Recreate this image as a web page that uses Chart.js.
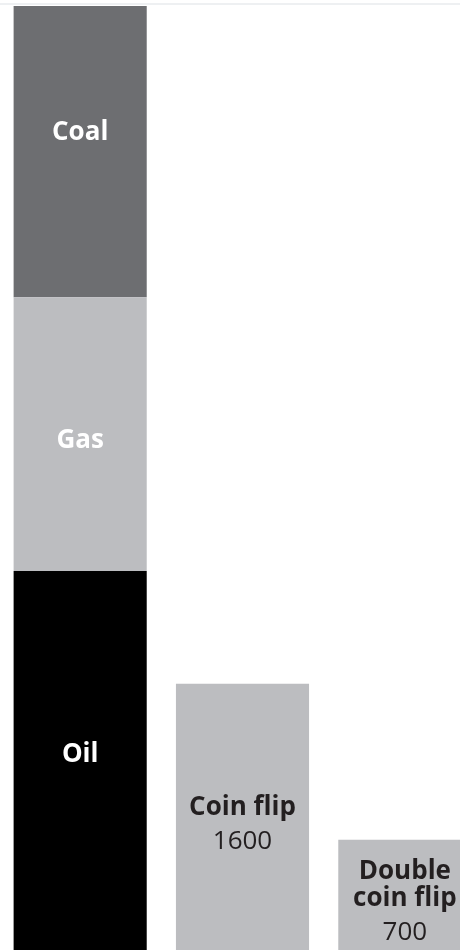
<!DOCTYPE html>
<html>
<head>
<meta charset="utf-8">
<script src="https://cdn.jsdelivr.net/npm/chart.js@4"></script>
<style>
  html, body { margin: 0; padding: 0; background: #fff; overflow: hidden; }
  body { width: 460px; height: 950px; position: relative; }
  .topline { position: absolute; left: 0; top: 3px; width: 460px; height: 2px; background: #eef0f2; }
  .wrap { position: absolute; left: -1px; top: 0; width: 487px; height: 961px; }
</style>
</head>
<body>
<div class="topline"></div>
<div class="wrap"><canvas id="chart"></canvas></div>
<script>
// Categories and values
const categories = ['Fossil fuels', 'Coin flip', 'Double coin flip']
const oilValues = [2250, null, null]
const gasValues = [1580, null, null]
const coalValues = [1680, null, null]
const flipValues = [null, 1600, 700]
const flipNames = [null, ['Coin flip'], ['Double', 'coin flip']]
const yMax = 5510

// Draws names inside the bars
const barLabels = {
  id: 'barLabels',
  afterDatasetsDraw(chart, args, opts) {
    const ctx = chart.ctx
    ctx.save()
    ctx.textAlign = 'center'
    ctx.textBaseline = 'alphabetic'
    chart.data.datasets.forEach((ds, di) => {
      const meta = chart.getDatasetMeta(di)
      meta.data.forEach((bar, i) => {
        const v = ds.data[i]
        if (v == null) return
        const mid = (bar.y + bar.base) / 2
        if (ds.inside) {
          // single white label for fossil segments
          ctx.fillStyle = '#ffffff'
          ctx.font = 'bold 26px "Open Sans"'
          ctx.fillText(ds.label, bar.x, mid + opts.capHeight / 2 + (ds.labelShift || 0))
        } else {
          const names = flipNames[i]
          const blockH = opts.capHeight + (names.length - 1) * opts.nameGap + opts.numberGap
          let y = mid - blockH / 2 + opts.capHeight
          ctx.fillStyle = '#231f20'
          ctx.font = 'bold 26px "Open Sans"'
          names.forEach((line, k) => {
            ctx.fillText(line, bar.x, y)
            if (k < names.length - 1) y += opts.nameGap
          })
          y += opts.numberGap
          ctx.font = '26px "Open Sans"'
          ctx.fillText(String(v), bar.x, y)
        }
      })
    })
    ctx.restore()
  }
}

function drawChart() {
  const ctx = document.getElementById('chart').getContext('2d')
  new Chart(ctx, {
    type: 'bar',
    data: {
      labels: categories,
      datasets: [
        { label: 'Oil', data: oilValues, backgroundColor: '#000000', inside: true, labelShift: -14 },
        { label: 'Gas', data: gasValues, backgroundColor: '#bcbdc0', inside: true, labelShift: 4 },
        { label: 'Coal', data: coalValues, backgroundColor: '#6d6e71', inside: true, labelShift: -21 },
        { label: 'Flips', data: flipValues, backgroundColor: '#bcbdc0', inside: false }
      ]
    },
    options: {
      responsive: true,
      maintainAspectRatio: false,
      animation: false,
      devicePixelRatio: 1,
      layout: { padding: { top: 6, bottom: 0, left: 0, right: 0 } },
      datasets: {
        bar: { barPercentage: 0.82, categoryPercentage: 1, borderWidth: 0 }
      },
      scales: {
        x: { stacked: true, display: false },
        y: { stacked: true, display: false, min: 0, max: yMax }
      },
      plugins: {
        legend: { display: false },
        tooltip: { enabled: false },
        barLabels: { capHeight: 19, nameGap: 27, numberGap: 34 }
      }
    },
    plugins: [barLabels]
  })
}

Promise.all([
  document.fonts.load('bold 26px "Open Sans"'),
  document.fonts.load('26px "Open Sans"')
]).then(drawChart, drawChart)
</script>
</body>
</html>
